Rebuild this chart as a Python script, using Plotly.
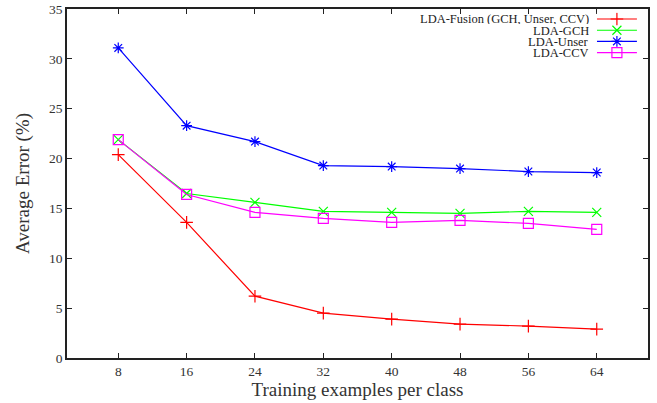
import plotly.graph_objects as go

x_vals = [8, 16, 24, 32, 40, 48, 56, 64]
fusion = [20.4, 13.6, 6.2, 4.5, 3.9, 3.4, 3.2, 2.9]
gch = [21.9, 16.5, 15.6, 14.7, 14.6, 14.5, 14.7, 14.6]
unser = [31.1, 23.3, 21.7, 19.3, 19.2, 19.0, 18.7, 18.6]
ccv = [21.9, 16.4, 14.6, 14.0, 13.6, 13.8, 13.5, 12.9]

names = ["LDA-Fusion (GCH, Unser, CCV)", "LDA-GCH", "LDA-Unser", "LDA-CCV"]
series = [fusion, gch, unser, ccv]
colors = ["#ff0000", "#00ff00", "#0000ff", "#ff00ff"]
symbols = ["cross-thin-open", "x-thin-open", "asterisk-open", "square-open"]
sizes = [9, 9, 9, 10]

FONT = "Liberation Serif, Times New Roman, DejaVu Serif, serif"
fig = go.Figure()
for name, ys, c, s, sz in zip(names, series, colors, symbols, sizes):
    fig.add_trace(go.Scatter(
        x=x_vals, y=ys, mode="lines+markers", name=name,
        line=dict(color=c, width=1.2),
        marker=dict(symbol=s, size=sz, color=c, line=dict(color=c, width=1.2)),
        showlegend=False))

# custom legend (text right-aligned, sample on the right like gnuplot)
for i, (name, c, s, sz) in enumerate(zip(names, colors, symbols, sizes)):
    yy = 1 - i
    fig.add_trace(go.Scatter(
        x=[0, 1], y=[yy, yy], mode="lines", line=dict(color=c, width=1.2),
        xaxis="x2", yaxis="y2", showlegend=False, hoverinfo="skip"))
    fig.add_trace(go.Scatter(
        x=[0.5], y=[yy], mode="markers",
        marker=dict(symbol=s, size=sz, color=c, line=dict(color=c, width=1.2)),
        xaxis="x2", yaxis="y2", showlegend=False, hoverinfo="skip"))
    fig.add_annotation(x=0.9, y=yy, xref="paper", yref="y2", text=name,
                       showarrow=False, xanchor="right", yanchor="middle",
                       borderpad=0, height=11,
                       font=dict(family=FONT, size=12.5, color="#222"))

fig.update_layout(
    width=657, height=403,
    margin=dict(l=67, r=9, t=9, b=45),
    paper_bgcolor="white", plot_bgcolor="white",
    font=dict(family=FONT, size=13, color="#333"),
    xaxis=dict(range=[2, 70], tickvals=x_vals, ticks="inside", ticklen=5,
               tickwidth=1, tickcolor="#222", mirror="ticks", showline=True,
               linecolor="#222", linewidth=1.5, showgrid=False, zeroline=False,
               automargin=False,
               title=dict(text="Training examples per class",
                          font=dict(family=FONT, size=19, color="#333"), standoff=2),
               tickfont=dict(family=FONT, size=13.5, color="#333")),
    yaxis=dict(range=[0, 35], dtick=5, ticks="inside", ticklen=5,
               tickwidth=1, tickcolor="#222", mirror="ticks", showline=True,
               linecolor="#222", linewidth=1.5, showgrid=False, zeroline=False,
               automargin=False,
               title=dict(text="Average Error (%)",
                          font=dict(family=FONT, size=19, color="#333"), standoff=14),
               tickfont=dict(family=FONT, size=13.5, color="#333")),
    xaxis2=dict(domain=[0.912, 0.981], range=[0, 1], visible=False, anchor="y2"),
    yaxis2=dict(domain=[0.85, 0.99], range=[-2.77, 1.579], visible=False, anchor="x2"),
)

fig.write_html("out.html")
